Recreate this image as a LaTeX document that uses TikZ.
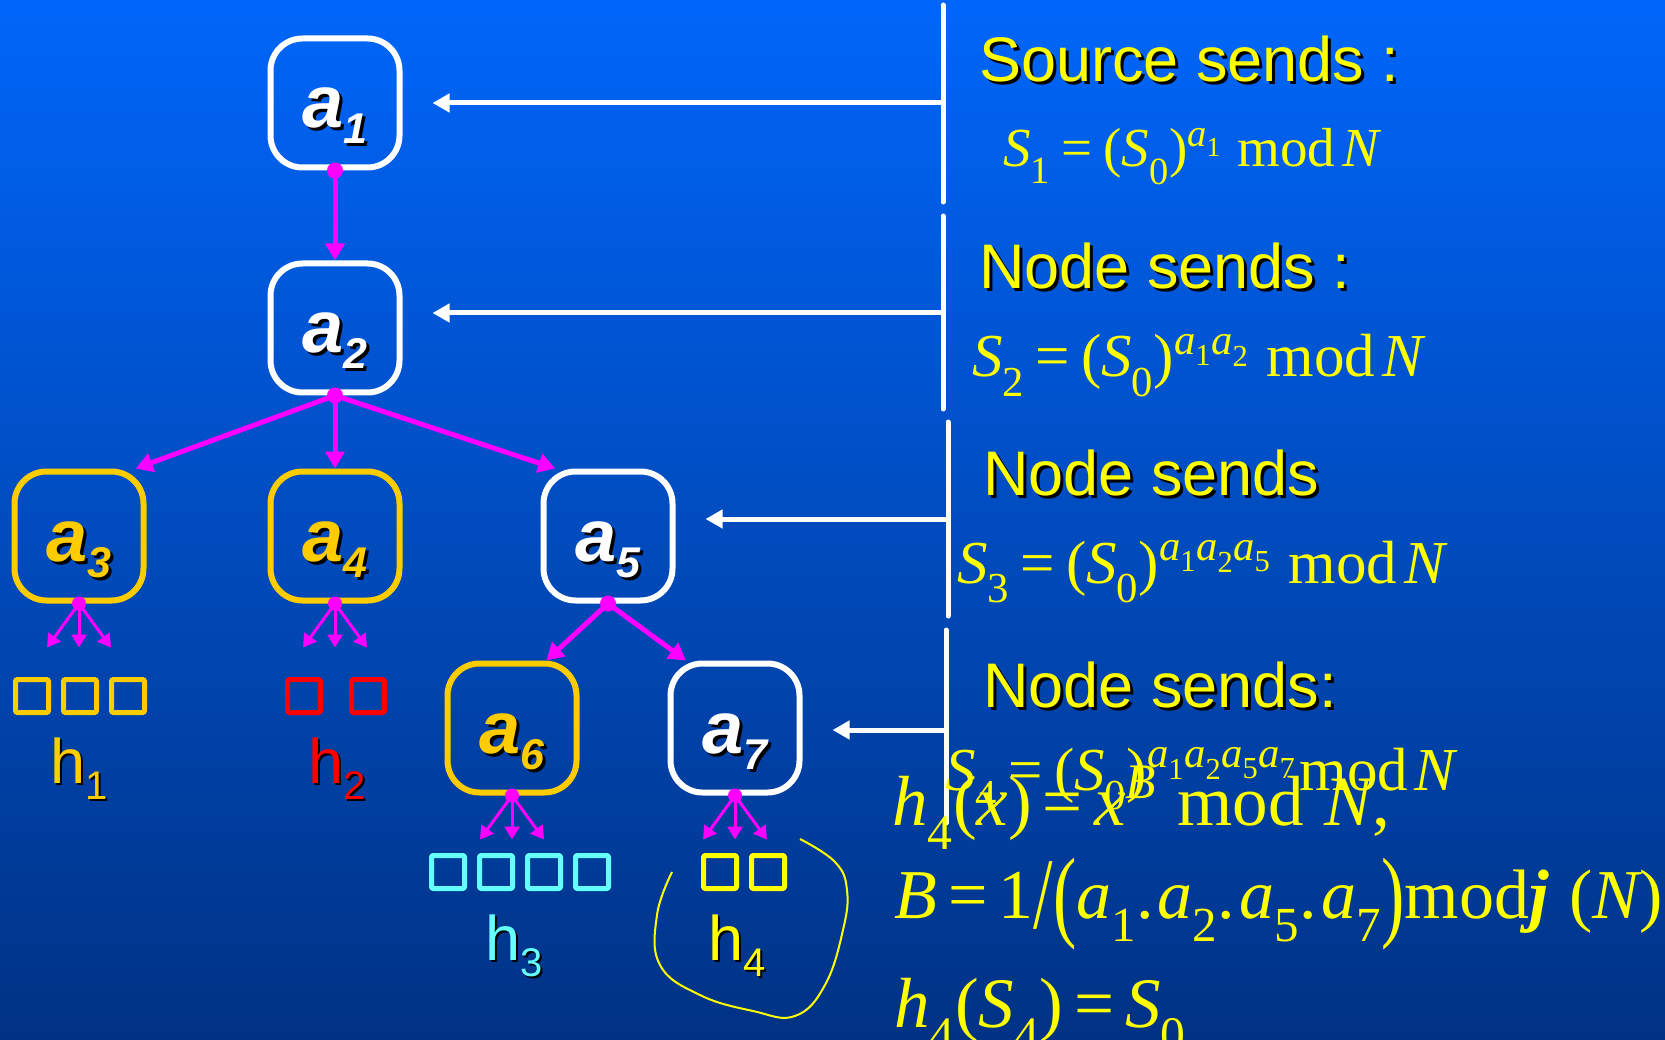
\documentclass[tikz,border=0pt]{standalone}
\usepackage{amsmath}
\usepackage[no-math]{fontspec}
\newfontfamily\arialf{Liberation Sans}
\newfontfamily\tmsf{Liberation Serif}[NFSSFamily=tmsf]
\DeclareSymbolFont{operators}{TU}{tmsf}{m}{n}
\SetSymbolFont{operators}{bold}{TU}{tmsf}{b}{n}
\DeclareSymbolFont{letters}{TU}{tmsf}{m}{it}
\SetSymbolFont{letters}{bold}{TU}{tmsf}{b}{it}
\mathchardef\mdot="602E
\mathchardef\mcomma="602C
\usetikzlibrary{arrows.meta, positioning, calc}
\definecolor{bgtop}{RGB}{0,102,250}
\definecolor{bgbot}{RGB}{0,50,132}
\definecolor{keyline}{RGB}{255,204,0}
\definecolor{linkcol}{RGB}{255,0,255}
\definecolor{msgcol}{RGB}{255,255,0}
\definecolor{hredcol}{RGB}{255,0,0}
\definecolor{hcyancol}{RGB}{102,255,255}

% text with a dark drop shadow
\newcommand{\shd}[2][3pt]{\leavevmode\rlap{\color{black}\kern#1\raisebox{-#1}{#2}}#2}
\newcommand{\akey}[1]{{\fontsize{74}{74}\selectfont\arialf\bfseries\itshape a\raisebox{-16pt}{\fontsize{43}{43}\selectfont #1}}}
\newcommand{\hlab}[1]{{\fontsize{63}{63}\selectfont\arialf h\raisebox{-16pt}{\fontsize{40}{40}\selectfont #1}}}
% raised exponent and tall delimiters for the formulas
\newcommand{\pwr}[1]{\raisebox{0.37em}{$\scriptstyle #1$}}
\newcommand{\tallp}[1]{\raisebox{-0.15em}{\scalebox{1}[1.45]{\tmsf #1}}}

\begin{document}
\begin{tikzpicture}[
  x=1pt, y=-1pt,
  key/.style={draw, rounded corners=32pt, line width=6pt, minimum size=129pt,
              inner sep=0pt, text height=60pt, text depth=10pt},
  keyw/.style={key, draw=white, text=white},
  keyo/.style={key, draw=keyline, text=keyline},
  link/.style={draw=linkcol, line width=5pt, -{Triangle[length=17pt,width=19pt]}},
  fan/.style={draw=linkcol, line width=3pt, -{Triangle[length=13pt,width=15pt]}},
  send/.style={draw=white, line width=5pt, -{Triangle[length=17pt,width=18pt]}, shorten >=30pt},
  bar/.style={draw=white, line width=5pt, line cap=round},
  hsq/.style={draw, line width=5pt, minimum size=33pt, inner sep=0pt, rounded corners=2pt},
  hname/.style={anchor=base, inner sep=0pt},
  msg/.style={anchor=base west, inner sep=0pt, text=msgcol, font=\fontsize{63}{63}\selectfont\arialf},
  eqn/.style={anchor=base west, inner sep=0pt, text=msgcol},
]
\useasboundingbox (0,0) rectangle (1665,1040);
\fill[top color=bgtop, bottom color=bgbot] (0,0) rectangle (1665,1040);

% key tree
\node[keyw] (a1) at (335,103) {\shd{\akey{1}}};
\node[keyw, below=90pt of a1] (a2) {\shd{\akey{2}}};
\node[keyo, below=73pt of a2] (a4) {\shd{\akey{4}}};
\node[keyo, left=121pt of a4] (a3) {\shd{\akey{3}}};
\node[keyw, right=138pt of a4] (a5) {\shd{\akey{5}}};
\node[keyo] (a6) at (512,728) {\shd{\akey{6}}};
\node[keyw] (a7) at (735,728) {\shd{\akey{7}}};

\draw[link] (a1.south) -- (a2.north);
\draw[link] (a2.south) -- (a3.50);
\draw[link] (a2.south) -- (a4.north);
\draw[link] (a2.south) -- (a5.128);
\draw[link] (a5.south) -- (a6.63);
\draw[link] (a5.south) -- (a7.126);
\foreach \k in {a1,a2,a5}
  \fill[linkcol] (\k.south) circle (8pt);
\foreach \k in {a3,a4,a6,a7} {
  \fill[linkcol] (\k.south) circle (7pt);
  \foreach \dx in {-32,0,32}
    \draw[fan] (\k.south) -- ++(\dx,44);
}

% hash chains
\foreach \i/\x in {1/32,2/80,3/128}
  \node[hsq, draw=keyline] (sqa\i) at (\x,696) {};
\foreach \i/\x in {1/304,2/368}
  \node[hsq, draw=hredcol] (sqb\i) at (\x,696) {};
\foreach \i/\x in {1/448,2/496,3/544,4/592}
  \node[hsq, draw=hcyancol] (sqc\i) at (\x,872) {};
\foreach \i/\x in {1/720,2/768}
  \node[hsq, draw=msgcol] (sqd\i) at (\x,872) {};

\node[hname, text=keyline] (h1) at (79,783) {\shd[2pt]{\hlab{1}}};
\node[hname, text=hredcol] (h2) at (337,783) {\shd[2pt]{\hlab{2}}};
\node[hname, text=hcyancol] (h3) at (514,960) {\shd[2pt]{\hlab{3}}};
\node[hname, text=msgcol] (h4) at (737,960) {\shd[2pt]{\hlab{4}}};

% loop round h4
\draw[msgcol, line width=2pt] plot[smooth, tension=0.7] coordinates
  {(672,872) (657,915) (660,965) (700,995) (753,1011) (795,1016) (825,985) (843,930) (847,890) (835,862) (800,839)};

% messages
\draw[bar] (943,5) -- (943,202);
\draw[bar] (943,216) -- (943,409);
\draw[bar] (948,422) -- (948,616);
\draw[bar] (946,630) -- (946,823);
\coordinate (m1) at (943,103);
\coordinate (m2) at (943,313);
\coordinate (m3) at (948,519);
\coordinate (m4) at (946,730);
\draw[send] (m1) -- (m1 -| a1.east);
\draw[send] (m2) -- (m2 -| a2.east);
\draw[send] (m3) -- (m3 -| a5.east);
\draw[send] (m4) -- (m4 -| a7.east);

\node[msg] (src) at (979,82) {\shd{Source sends :}};
\node[eqn, font=\fontsize{55}{55}\selectfont] (s1) at (1003,167) {$S_1 \,=\, (S_0)\pwr{a_1}\ \mathrm{mod}\;N$};
\node[msg] (nd2) at (979,289) {\shd{Node sends :}};
\node[eqn, font=\fontsize{61}{61}\selectfont] (s2) at (972,377) {$S_2 \,=\, (S_0)\pwr{a_1a_2}\ \mathrm{mod}\;N$};
\node[msg] (nd3) at (983,495) {\shd{Node sends}};
\node[eqn, font=\fontsize{61}{61}\selectfont] (s3) at (957,583) {$S_3 \,=\, (S_0)\pwr{a_1a_2a_5}\ \mathrm{mod}\;N$};
\node[msg] (nd4) at (983,707) {\shd{Node sends:}};
\node[eqn, font=\fontsize{61}{61}\selectfont] (s4) at (945,790) {$S_4 \,=\, (S_0)\pwr{a_1a_2a_5a_7}\,\mathrm{mod}\;N$};
\node[eqn, font=\fontsize{71}{71}\selectfont] (hx) at (892,825) {$h_4(x) \,=\, x\pwr{B}\ \mathrm{mod}\ N\mcomma$};
\node[eqn, font=\fontsize{70}{70}\selectfont] (bdef) at (894,918) {$B \,=\, 1\tallp{/}\tallp{(}a_1\mdot a_2\mdot a_5\mdot a_7\tallp{)}\mathrm{mod}\boldsymbol{j}\ (N)$};
\node[eqn, font=\fontsize{71}{71}\selectfont] (hfin) at (894,1027) {$h_4(S_4) \,=\, S_0$};
\end{tikzpicture}
\end{document}
